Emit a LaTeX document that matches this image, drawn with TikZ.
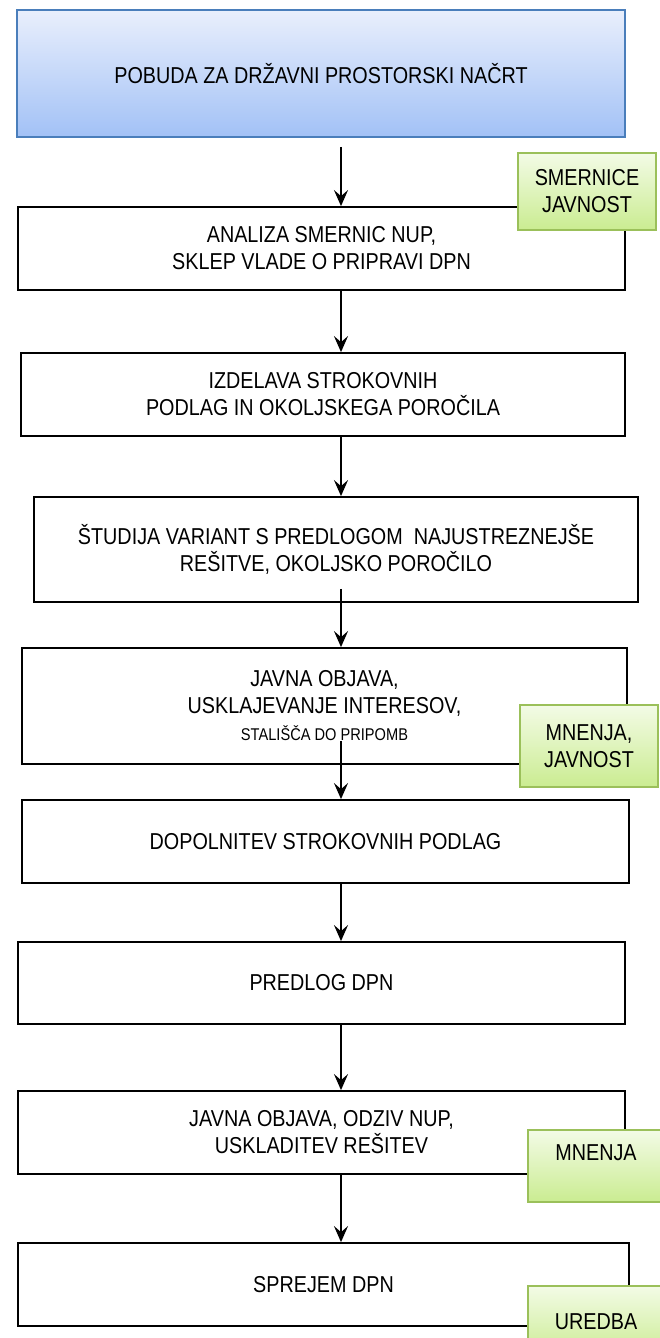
\documentclass[tikz,border=0pt]{standalone}
\usepackage{fontspec}
\setmainfont[FakeStretch=0.86]{Liberation Sans}
\usetikzlibrary{arrows.meta}
\definecolor{bluetop}{RGB}{233,239,252}
\definecolor{bluebot}{RGB}{162,193,246}
\definecolor{blueline}{RGB}{74,126,187}
\definecolor{greentop}{RGB}{243,251,230}
\definecolor{greenbot}{RGB}{202,236,145}
\definecolor{greenline}{RGB}{155,192,90}

\begin{document}
\begin{tikzpicture}[x=1pt, y=-1pt,
    box/.style={draw, line width=1.8pt, inner sep=0pt, align=center,
                font=\fontsize{23}{27}\selectfont},
    startbox/.style={box, draw=blueline, top color=bluetop, bottom color=bluebot},
    notebox/.style={box, draw=greenline, top color=greentop, bottom color=greenbot},
    arr/.style={line width=2.1pt, -{Stealth[length=16pt, width=14pt, inset=6pt]}}]
      \useasboundingbox (0, 0) rectangle (659, 1338);
      % koraki postopka
      \node [startbox, minimum width=608, minimum height=127] (pobuda) at (321, 73.5)
            {POBUDA ZA DRŽAVNI PROSTORSKI NAČRT};
      \node [box, minimum width=607, minimum height=83] (analiza) at (321.5, 248.5)
            {ANALIZA SMERNIC NUP,\\ SKLEP VLADE O PRIPRAVI DPN};
      \node [box, minimum width=604, minimum height=83] (izdelava) at (323, 394.5)
            {IZDELAVA STROKOVNIH\\ PODLAG IN OKOLJSKEGA POROČILA};
      \node [box, minimum width=604, minimum height=105] (studija) at (336, 549.5)
            {ŠTUDIJA VARIANT S PREDLOGOM\ \ NAJUSTREZNEJŠE\\ REŠITVE, OKOLJSKO POROČILO};
      \node [box, minimum width=605, minimum height=116] (objava) at (324.5, 706)
            {JAVNA OBJAVA,\\ USKLAJEVANJE INTERESOV,\\
             {\fontsize{17}{20}\selectfont STALIŠČA DO PRIPOMB}};
      \node [box, minimum width=607, minimum height=83] (dopolnitev) at (325.5, 841.5)
            {DOPOLNITEV STROKOVNIH PODLAG};
      \node [box, minimum width=607, minimum height=82] (predlog) at (321.5, 983)
            {PREDLOG DPN};
      \node [box, minimum width=607, minimum height=83] (odziv) at (321.5, 1132.5)
            {JAVNA OBJAVA, ODZIV NUP,\\ USKLADITEV REŠITEV};
      \node [box, minimum width=611, minimum height=83] (sprejem) at (323.5, 1284.5)
            {SPREJEM DPN};
      % puscice
      \coordinate (ax) at (341, 0);
      \draw [arr] (pobuda.south -| ax) ++(0, 9) -- (analiza.north -| ax);
      \draw [arr] (analiza.south -| ax) -- (izdelava.north -| ax);
      \draw [arr] (izdelava.south -| ax) -- (studija.north -| ax);
      \draw [arr] (studija.south -| ax) ++(0, -14) -- (objava.north -| ax);
      \draw [arr] (objava.south -| ax) ++(0, -24) -- (dopolnitev.north -| ax);
      \draw [arr] (dopolnitev.south -| ax) -- (predlog.north -| ax);
      \draw [arr] (predlog.south -| ax) -- (odziv.north -| ax);
      \draw [arr] (odziv.south -| ax) -- (sprejem.north -| ax);
      % opombe
      \node [notebox, minimum width=138, minimum height=77] (smernice) at (587, 191.5)
            {SMERNICE\\ JAVNOST};
      \node [notebox, minimum width=138, minimum height=82] (mnenja) at (589, 746)
            {MNENJA,\\ JAVNOST};
      \node [notebox, minimum width=136, minimum height=72] (mnenja2) at (596, 1166)
            {MNENJA\\ ~};
      \node [notebox, minimum width=136, minimum height=72] (uredba) at (596, 1322)
            {UREDBA};
\end{tikzpicture}
\end{document}
